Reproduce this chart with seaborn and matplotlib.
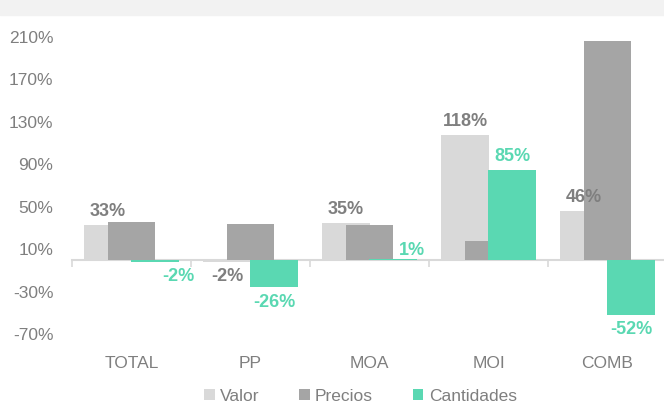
import numpy as np
import pandas as pd
import seaborn as sns
import matplotlib as mat

mat.use("Agg")

import matplotlib.pyplot as plt
from matplotlib.patches import Patch, Rectangle


categorias = ["TOTAL", "PP", "MOA", "MOI", "COMB"]
valor = [33, -2, 35, 118, 46]
precios = [36, 34, 33, 18, 206]
cantidades = [-2, -26, 1, 85, -52]

series = ["Valor", "Precios", "Cantidades"]
cores = {"Valor": "#d9d9d9", "Precios": "#a5a5a5", "Cantidades": "#5ad8b2"}
cor_texto = "#7f7f7f"
y_ticks = list(range(-70, 211, 40))

DPI = 100
DESLOC = 0.1975
LARGURA = 0.403


def montar_df() -> pd.DataFrame:
    linhas = []
    for serie, valores in zip(series, [valor, precios, cantidades]):
        for i, (cat, v) in enumerate(zip(categorias, valores)):
            linhas.append({"categoria": cat, "idx": i, "serie": serie, "pct": v})
    df = pd.DataFrame(linhas)
    pos = {"Valor": -DESLOC, "Precios": 0.0, "Cantidades": DESLOC}
    df["x"] = df["idx"] + df["serie"].map(pos)
    return df


def main() -> None:
    sns.set_theme(style="white")
    plt.rcParams["font.family"] = ["Liberation Sans", "DejaVu Sans"]

    df = montar_df()

    fig = plt.figure(figsize=(6.64, 4.01), dpi=DPI)
    fig.patches.append(
        Rectangle((0, 1 - 15 / 401), 1, 15 / 401, transform=fig.transFigure,
                  color="#f2f2f2", zorder=0)
    )
    ax = fig.add_axes([72 / 664, 1 - 334 / 401, 595 / 664, 297 / 401])

    for z, serie in enumerate(series):
        sub = df[df["serie"] == serie]
        sns.barplot(
            data=sub, x="x", y="pct", native_scale=True, width=LARGURA,
            color=cores[serie], saturation=1, linewidth=0, edgecolor="none",
            ax=ax, zorder=2 + z,
        )

    ax.set_xlim(-0.5, 4.5)
    ax.set_ylim(-70, 210)
    ax.set_yticks(y_ticks)
    ax.set_yticklabels([f"{t}%" for t in y_ticks])
    ax.tick_params(axis="y", length=0, pad=13.5, labelsize=12.5, labelcolor=cor_texto)
    ax.set_xlabel("")
    ax.set_ylabel("")

    # eixo horizontal no zero, marcas entre categorias
    for lado in ["top", "right", "left"]:
        ax.spines[lado].set_visible(False)
    ax.spines["bottom"].set_position(("data", 0))
    ax.spines["bottom"].set_color("#d9d9d9")
    ax.spines["bottom"].set_linewidth(1.5)
    ax.spines["bottom"].set_zorder(1)
    ax.set_xticks(np.arange(len(categorias)) - 0.5)
    ax.set_xticklabels([])
    ax.tick_params(axis="x", length=5, width=1.2, color="#d9d9d9", direction="out", bottom=True)

    for i, cat in enumerate(categorias):
        ax.annotate(cat, xy=(i, 0), xycoords=("data", "axes fraction"),
                    xytext=(0, -29), textcoords="offset pixels",
                    ha="center", va="center", fontsize=12.5, color=cor_texto)

    # rotulos de dados
    ajuste_x = {("Cantidades", "TOTAL"): 23, ("Cantidades", "MOA"): 19}
    for serie, cor in [("Valor", cor_texto), ("Cantidades", cores["Cantidades"])]:
        sub = df[df["serie"] == serie]
        for _, r in sub.iterrows():
            dx = ajuste_x.get((serie, r["categoria"]), 0)
            if r["pct"] >= 0:
                dy = 13 if r["pct"] > 5 else 8
            else:
                dy = -15
            ax.annotate(f"{r['pct']}%", xy=(r["x"], r["pct"]),
                        xytext=(dx, dy), textcoords="offset pixels",
                        ha="center", va="center", fontsize=13, fontweight="bold",
                        color=cor, zorder=10)

    handles = [Patch(facecolor=cores[s], edgecolor="none", label=s) for s in series]
    fig.legend(
        handles=handles, loc="center", bbox_to_anchor=(0.543, 0.012),
        ncol=3, frameon=False, fontsize=12.5, labelcolor=cor_texto,
        handlelength=0.6, handleheight=0.6, handletextpad=0.3, columnspacing=2.3,
    )

    fig.savefig("out.png", dpi=DPI)
    plt.close(fig)


if __name__ == "__main__":
    main()
